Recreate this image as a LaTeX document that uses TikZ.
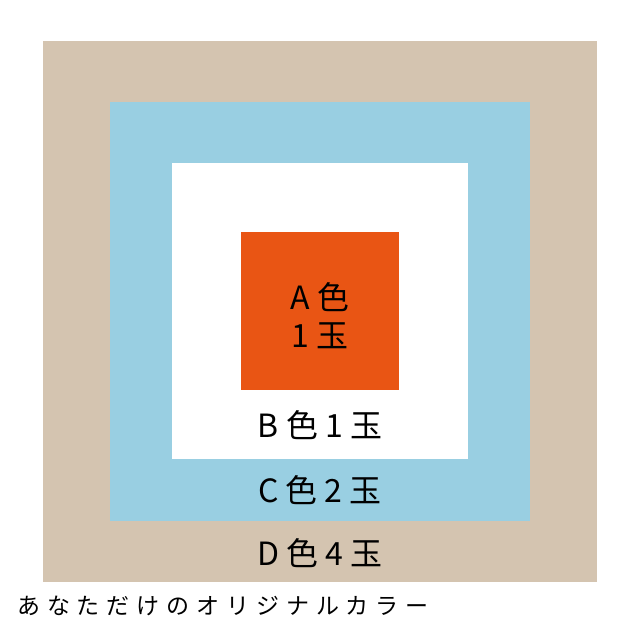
\documentclass[tikz,border=0pt]{standalone}
\usepackage{fontspec}
\setmainfont{Noto Sans CJK JP}
\newfontfamily\spacedfont[LetterSpace=30]{Noto Sans CJK JP}
\usepackage{tikz}
\definecolor{beige}{HTML}{D4C4B0}
\definecolor{skyblue}{HTML}{99CFE2}
\definecolor{tomato}{HTML}{E95514}
\tikzstyle{label}=[inner sep=0pt,font=\fontsize{32}{38}\selectfont]
\tikzstyle{caption}=[inner sep=0pt,anchor=west,font=\fontsize{23}{28}\selectfont\spacedfont]

\begin{document}
\begin{tikzpicture}[x=1pt,y=1pt]
  \useasboundingbox (0,0) rectangle (640,640);
  % squares
  \fill[beige] (43,58) rectangle (597,599);
  \fill[skyblue] (110,119) rectangle (530,538);
  \fill[white] (172,181) rectangle (468,477);
  \fill[tomato] (241,250) rectangle (399,408);
  % labels
  \node[label,align=center] (A) at (320,324) {A 色\\1 玉};
  \node[label] (B) at (320,215) {B 色 1 玉};
  \node[label] (C) at (320,150) {C 色 2 玉};
  \node[label] (D) at (320,87) {D 色 4 玉};
  % caption
  \node[caption] (title) at (17,34) {あなただけのオリジナルカラー};
\end{tikzpicture}
\end{document}
